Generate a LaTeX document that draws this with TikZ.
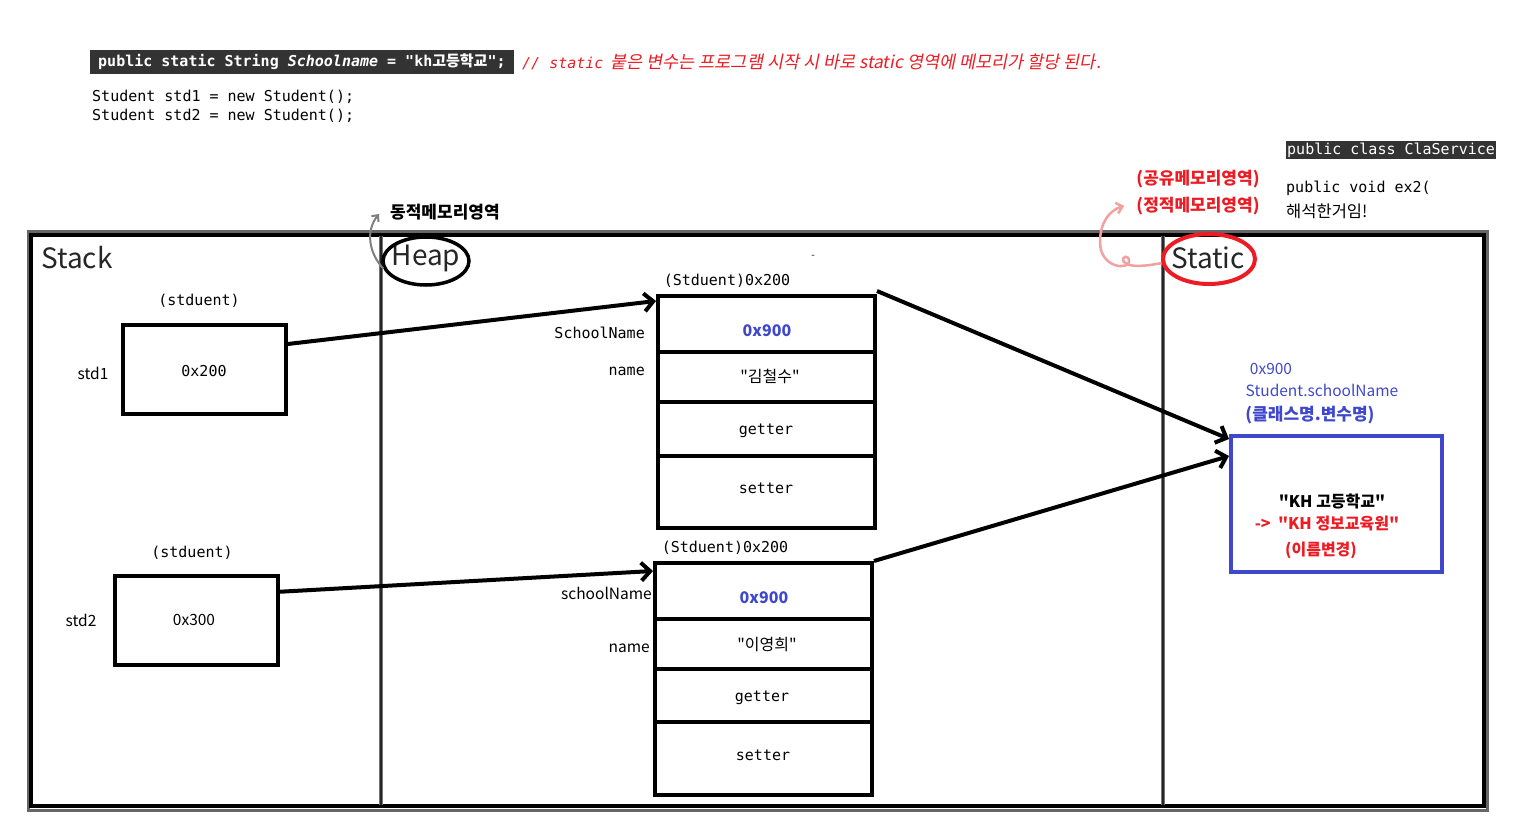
\documentclass[tikz,border=0pt]{standalone}
\usepackage{fontspec}
\setmainfont{Noto Sans CJK KR}
\setmonofont{DejaVu Sans Mono}
\newfontfamily\kr{Noto Sans CJK KR}
\newfontfamily\krit[FakeSlant=0.2]{Noto Sans CJK KR}
\usetikzlibrary{arrows.meta,shapes.geometric,calc}
\definecolor{kred}{HTML}{ED1C24}
\definecolor{kblue}{HTML}{3F48CC}
\definecolor{codebg}{HTML}{333333}
\definecolor{pinkarr}{HTML}{F2A0A0}
\newcommand{\dq}{\textquotedbl}
\begin{document}
\begin{tikzpicture}[x=1pt,y=-1pt,
  every node/.style={inner sep=0pt, font=\fontsize{15.5}{18}\selectfont},
  mono/.style={font=\ttfamily\fontsize{15}{18}\selectfont},
  sans/.style={font=\fontsize{15.5}{18}\selectfont},
  krbold/.style={font=\bfseries\fontsize{17}{20}\selectfont},
  title/.style={font=\fontsize{28}{32}\selectfont, text=black!85},
  cell/.style={draw, line width=4pt, minimum width=217pt},
  refbox/.style={draw, line width=4pt, minimum width=163pt, minimum height=89pt},
  ptr/.style={line width=4pt, -{Straight Barb[length=9pt,width=18pt]}},
  divider/.style={line width=4pt, black!55},
]
\useasboundingbox (0,0) rectangle (1516,838);

% ---- code at top ----
\node[mono, fill=codebg, text=white, anchor=west, inner xsep=8pt, inner ysep=4pt,
      font=\ttfamily\bfseries\fontsize{15}{18}\selectfont] (decl) at (90,62)
  {public static String \textit{Schoolname} = "kh{\kr 고등학교}";};
\node[anchor=west, text=kred] (cmt) at (522,62)
  {{\ttfamily\itshape\fontsize{15}{18}\selectfont // static}\ \ {\krit\fontsize{17.5}{20}\selectfont 붙은 변수는 프로그램 시작 시 바로 static 영역에 메모리가 할당 된다.}};
\node[mono, anchor=west] (l1) at (92,97) {Student std1 = new Student();};
\node[mono, anchor=west] (l2) at (92,116) {Student std2 = new Student();};

% ---- top right ----
\node[mono, fill=codebg, text=white, anchor=west, inner xsep=1pt, inner ysep=2pt] (cls) at (1286,150) {public class ClaService};
\node[mono, anchor=west] (ex2) at (1286,188) {public void ex2(};
\node[anchor=west, font=\fontsize{16.5}{19}\selectfont] (hs) at (1286,211) {해석한거임!};

\node[krbold, text=kred] (shared) at (1198,179) {(공유메모리영역)};
\node[krbold, text=kred] (statmem) at (1198,206) {(정적메모리영역)};
\node[krbold, anchor=west] (dyn) at (390,212) {동적메모리영역};

% ---- frame ----
\draw[black!60, line width=3pt] (28,231) rectangle (1487,810);
\draw[black, line width=4pt] (31,234.5) rectangle (1484,806);
\draw[divider] (381,236) -- (381,805);
\draw[black!85, line width=1.2pt] (381,236) -- (381,805);
\draw[divider] (1163,236) -- (1163,805);
\draw[black!85, line width=1.2pt] (1163,236) -- (1163,805);

% ---- titles ----
\node[title, anchor=west] (stack) at (41,258) {Stack};
\node[title] (heaplbl) at (426,258) {Heap};
\node[ellipse, draw, line width=3.5pt, minimum width=86pt, minimum height=48pt] (heapring) at (426,261) {};
\node[title] (statlbl) at (1208,258) {Static};
\node[ellipse, draw=kred, line width=4pt, minimum width=92pt, minimum height=50pt] (statring) at (1209,259) {};
\node[font=\fontsize{10}{12}\selectfont] (tick) at (813,257) {-};

\draw[gray, line width=2pt, -{Straight Barb[length=5pt,width=9pt]}]
  (heapring.190) .. controls (368,252) and (366,230) .. ([xshift=-11pt,yshift=-2pt]dyn.west);
\draw[pinkarr, line width=2.5pt, -{Straight Barb[length=6pt,width=11pt]}]
  (statring.185) .. controls (1145,266) and (1130,268) .. (1124,262)
  .. controls (1120,256) and (1130,254) .. (1129,262)
  .. controls (1128,270) and (1100,268) .. (1100,242)
  .. controls (1100,222) and (1110,210) .. ([xshift=-12pt]statmem.west);

% ---- stack ----
\node[mono] (t1) at (199,301) {(stduent)};
\node[refbox] (s1) at (204.5,369.5) {};
\node[mono] (v1) at (204,371) {0x200};
\node[sans] (n1) at (93,373) {std1};

\node[mono] (t2) at (192,553) {(stduent)};
\node[refbox] (s2) at (196.5,620.5) {};
\node[sans] (v2) at (194,620) {0x300};
\node[sans] (n2) at (81,620) {std2};

% ---- heap object 1 ----
\node[mono] (h1) at (727,281) {(Stduent)0x200};
\node[cell, minimum height=56pt] (o1a) at (766.5,324) {};
\node[cell, minimum height=50pt] (o1b) at (766.5,377) {};
\node[cell, minimum height=54pt] (o1c) at (766.5,429) {};
\node[cell, minimum height=72pt] (o1d) at (766.5,492) {};
\node[text=kblue, font=\bfseries\fontsize{16}{19}\selectfont] (o1av) at (767,331) {0x900};
\node[font=\fontsize{16}{19}\selectfont] (o1bv) at (770,376) {\dq 김철수\dq};
\node[mono] (o1cv) at (766,431) {getter};
\node[mono] (o1dv) at (766,488) {setter};
\node[mono, anchor=east] (f1a) at (645,333) {SchoolName};
\node[mono, anchor=east] (f1b) at (645,371) {name};

% ---- heap object 2 ----
\node[mono] (h2) at (725,548) {(Stduent)0x200};
\node[cell, minimum height=56pt] (o2a) at (763.5,591) {};
\node[cell, minimum height=50pt] (o2b) at (763.5,644) {};
\node[cell, minimum height=53pt] (o2c) at (763.5,695.5) {};
\node[cell, minimum height=73pt] (o2d) at (763.5,758.5) {};
\node[text=kblue, font=\bfseries\fontsize{16}{19}\selectfont] (o2av) at (764,598) {0x900};
\node[font=\fontsize{16}{19}\selectfont] (o2bv) at (767,645) {\dq 이영희\dq};
\node[mono] (o2cv) at (762,698) {getter};
\node[mono] (o2dv) at (763,755) {setter};
\node[sans, anchor=east] (f2a) at (652,593) {schoolName};
\node[sans, anchor=east] (f2b) at (650,648) {name};

% ---- static area ----
\node[sans, text=kblue] (addr) at (1271,369) {0x900};
\node[sans, text=kblue] (qual) at (1322,390) {Student.schoolName};
\node[krbold, text=kblue] (qhint) at (1310,415) {(클래스명.변수명)};
\node[draw=kblue, line width=4pt, minimum width=211pt, minimum height=136pt] (st) at (1336.5,504) {};
\node[krbold, font=\bfseries\fontsize{16}{19}\selectfont] (sv1) at (1332,501) {\dq KH 고등학교\dq};
\node[krbold, font=\bfseries\fontsize{16}{19}\selectfont, text=kred] (sv2) at (1327,524) {->\ \ \dq KH 정보교육원\dq};
\node[krbold, font=\bfseries\fontsize{16}{19}\selectfont, text=kred] (sv3) at (1321,550) {(이름변경)};

% ---- pointers ----
\draw[ptr] (s1.17) -- ([yshift=-7pt]o1a.north west);
\draw[ptr] (s2.19) -- ([yshift=-10pt]o2a.north west);
\draw[ptr] ([yshift=3pt]o1a.north east) -- ([yshift=-5pt]st.north west);
\draw[ptr] (o2a.north east) -- ([yshift=-22pt]st.north west);
\end{tikzpicture}
\end{document}
